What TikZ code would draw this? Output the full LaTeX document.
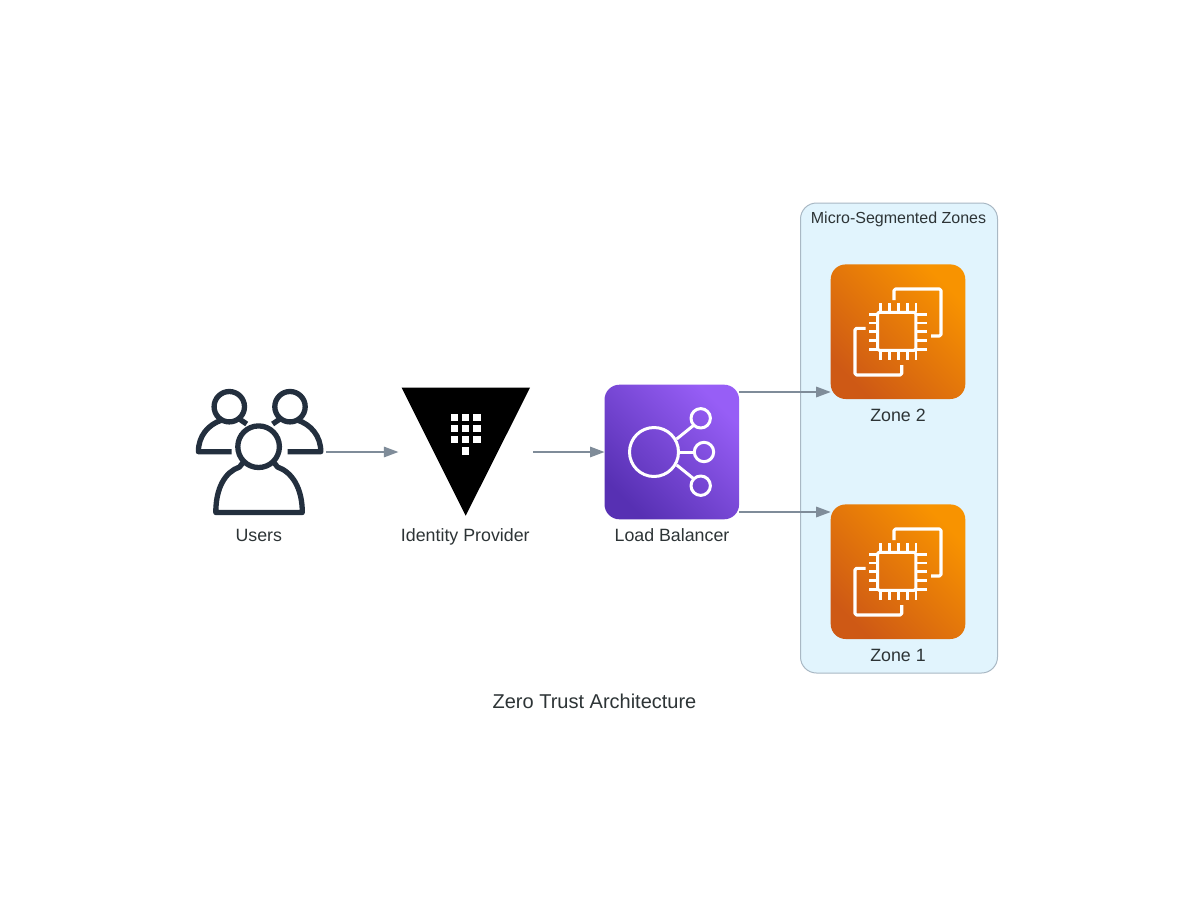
\documentclass[tikz,border=0pt]{standalone}
\usepackage{fontspec}
\setmainfont{Liberation Sans}
\usetikzlibrary{arrows.meta}
\definecolor{edgecol}{HTML}{7F8C99}
\definecolor{inkcol}{HTML}{232F3E}
\definecolor{txtcol}{HTML}{2D3436}
\definecolor{zonefill}{HTML}{E1F4FD}
\definecolor{zoneline}{HTML}{A9B8C4}
\definecolor{purpleA}{HTML}{5730B3}
\definecolor{purpleB}{HTML}{975EF6}
\definecolor{orangeA}{HTML}{CE5915}
\definecolor{orangeB}{HTML}{F89300}
\tikzset{
  iconbox/.style={minimum size=134.6pt,inner sep=0pt,outer sep=0pt,rounded corners=15pt},
  lblnode/.style={font=\fontsize{17.8}{20}\selectfont,text=txtcol,inner sep=0pt,anchor=base},
  flowline/.style={draw=edgecol,line width=1.5pt,-{Triangle[length=14.5pt,width=10.5pt,fill=edgecol]}},
  inkline/.style={draw=inkcol,line width=5.3pt,line join=round},
  whiteline/.style={draw=white,line width=3.1pt,line join=round,rounded corners=1.5pt},
  pinline/.style={draw=white,line width=2.8pt},
  thinwhite/.style={draw=white,line width=3pt,line join=round},
}
\begin{document}
\begin{tikzpicture}[x=1pt,y=-1pt]
\useasboundingbox (0,0) rectangle (1189,908);
\fill[white] (0,0) rectangle (1189,908);
% group
\node[draw=zoneline,fill=zonefill,line width=1pt,rounded corners=16pt,minimum width=197pt,minimum height=470pt,inner sep=0pt] (grp) at (899,438) {};
\node[lblnode,font=\fontsize{16}{18}\selectfont] (grplbl) at (898.5,223) {Micro-Segmented Zones};
% icon nodes
\node[iconbox] (users) at (259,452) {};
\node[iconbox] (idp) at (465.7,452) {};
\node[iconbox,bottom color=purpleA,top color=purpleB,shading angle=-45] (lb) at (671.8,452) {};
\node[iconbox,bottom color=orangeA,top color=orangeB,shading angle=-45] (z2) at (898,331.7) {};
\node[iconbox,bottom color=orangeA,top color=orangeB,shading angle=-45] (z1) at (898,571.7) {};
% users icon
\draw[inkline] (229.3,406.7) circle (15.2pt);
\draw[inkline] (290,406.7) circle (15.2pt);
\draw[inkline] (258.6,446.7) circle (20.8pt);
\draw[inkline] (231.7,451.7) -- (198.4,451.7) .. controls (198.4,436) and (208,424.5) .. (222,420);
\draw[inkline] (238.3,418.3) -- (246.7,424);
\draw[inkline] (287.6,451.7) -- (320.8,451.7) .. controls (320.8,436) and (311,424.5) .. (297.2,420);
\draw[inkline] (281,418.3) -- (272.6,424);
\draw[inkline] (243,462.5) -- (239.5,467) .. controls (225,472) and (215.8,488) .. (215.8,512.5) -- (302.3,512.5) .. controls (302.3,488) and (292,472) .. (277.5,467) -- (274,462.5);
% idp icon
\fill[black] (401.7,387.7) -- (530,387.7) -- (465.7,515.7) -- cycle;
\foreach \yy in {413.7,425,436}{\foreach \xx in {451,462,473.3}{
  \fill[white] (\xx,\yy) rectangle ++(7.3,7.3);}}
\fill[white] (462,447.3) rectangle ++(7.3,7.3);
% lb icon
\draw[thinwhite] (654,452) circle (24.5pt);
\draw[thinwhite] (700.7,418.3) circle (9.7pt);
\draw[thinwhite] (704,452) circle (9.7pt);
\draw[thinwhite] (700.7,485.7) circle (9.7pt);
\draw[thinwhite] (676.7,439) -- (694,425);
\draw[thinwhite] (678.5,452) -- (694.3,452);
\draw[thinwhite] (676.7,465) -- (694,479);
% chip icons
\foreach \dy in {0,240}{
\begin{scope}[shift={(0,\dy)}]
\draw[whiteline] (877.6,312.3) rectangle (915.8,350.3);
\foreach \p in {0,1,2,3,4}{
  \draw[pinline] (880.4+8.9*\p,303.3) -- (880.4+8.9*\p,312);
  \draw[pinline] (880.4+8.9*\p,350.5) -- (880.4+8.9*\p,360);
  \draw[pinline] (869,314.3+8.7*\p) -- (878,314.3+8.7*\p);
  \draw[pinline] (915.5,314.3+8.7*\p) -- (926.7,314.3+8.7*\p);
}
\draw[whiteline] (894,300) -- (894,289) -- (941,289) -- (941,336) -- (931,336);
\draw[whiteline] (865.7,328.3) -- (855,328.3) -- (855,375) -- (901.7,375) -- (901.7,365);
\end{scope}
}
% labels
\node[lblnode] (usersl) at (258.8,541) {Users};
\node[lblnode] (idpl) at (465.3,541) {Identity Provider};
\node[lblnode] (lbl) at (672,541) {Load Balancer};
\node[lblnode] (z2l) at (898,421) {Zone 2};
\node[lblnode] (z1l) at (898,661) {Zone 1};
\node[lblnode,font=\fontsize{20}{24}\selectfont] (title) at (594.5,708) {Zero Trust Architecture};
% connectors
\coordinate (lbup) at ([yshift=-7.3pt]lb.north east);
\coordinate (lbdn) at ([yshift=7.3pt]lb.south east);
\draw[flowline] (users.east) -- (idp.west);
\draw[flowline] (idp.east) -- (lb.west);
\draw[flowline] (lbup) -- (lbup -| z2.west);
\draw[flowline] (lbdn) -- (lbdn -| z1.west);
\end{tikzpicture}
\end{document}
